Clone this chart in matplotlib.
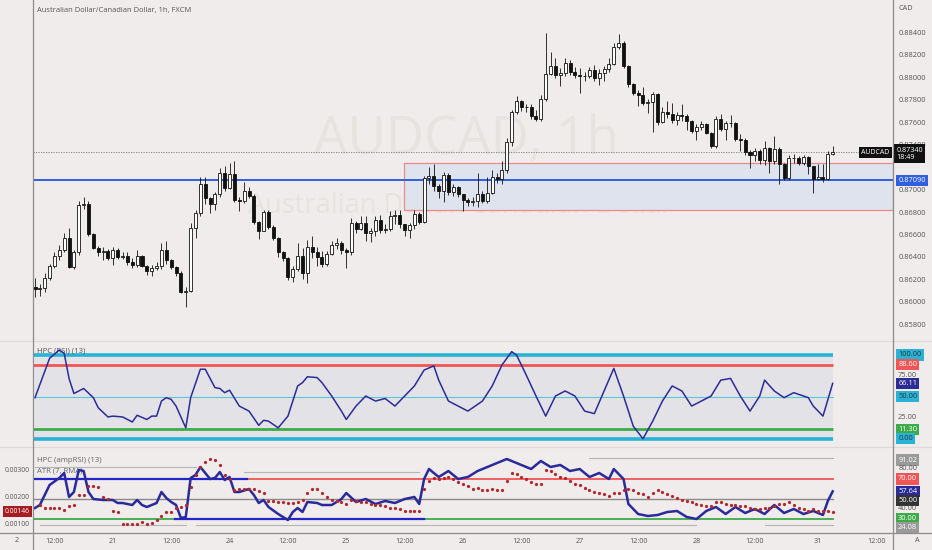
import matplotlib
matplotlib.use("Agg")
import matplotlib.pyplot as plt
from matplotlib.lines import Line2D
import numpy as np

# ---- data ----
first_open = 0.8614
close = [0.8612, 0.8613, 0.8622, 0.8633, 0.8642, 0.8647, 0.8658, 0.8632, 0.8645, 0.8687,
         0.8688, 0.8661, 0.8649, 0.8645, 0.8646, 0.8640, 0.8647, 0.8641, 0.8642, 0.8636,
         0.8634, 0.8642, 0.8633, 0.8628, 0.8631, 0.8633, 0.8647, 0.8638, 0.8632, 0.8627,
         0.8610, 0.8611, 0.8667, 0.8680, 0.8706, 0.8693, 0.8688, 0.8697, 0.8716, 0.8702,
         0.8715, 0.8692, 0.8691, 0.8700, 0.8695, 0.8672, 0.8664, 0.8681, 0.8668, 0.8658,
         0.8645, 0.8640, 0.8623, 0.8630, 0.8642, 0.8627, 0.8650, 0.8645, 0.8641, 0.8635,
         0.8644, 0.8652, 0.8653, 0.8647, 0.8645, 0.8671, 0.8666, 0.8671, 0.8662, 0.8664,
         0.8674, 0.8665, 0.8666, 0.8677, 0.8678, 0.8670, 0.8665, 0.8669, 0.8679, 0.8672,
         0.8711, 0.8713, 0.8704, 0.8700, 0.8714, 0.8699, 0.8703, 0.8697, 0.8692, 0.8690,
         0.8691, 0.8697, 0.8691, 0.8698, 0.8712, 0.8710, 0.8718, 0.8743, 0.8770, 0.8780,
         0.8774, 0.8774, 0.8766, 0.8764, 0.8782, 0.8804, 0.8811, 0.8803, 0.8805, 0.8814,
         0.8806, 0.8803, 0.8802, 0.8802, 0.8807, 0.8800, 0.8805, 0.8808, 0.8813, 0.8828,
         0.8831, 0.8811, 0.8795, 0.8787, 0.8785, 0.8778, 0.8779, 0.8786, 0.8761, 0.8770,
         0.8768, 0.8763, 0.8767, 0.8766, 0.8762, 0.8753, 0.8757, 0.8759, 0.8751, 0.8740,
         0.8764, 0.8755, 0.8760, 0.8760, 0.8746, 0.8745, 0.8734, 0.8732, 0.8735, 0.8727,
         0.8738, 0.8726, 0.8737, 0.8724, 0.8711, 0.8729, 0.8729, 0.8725, 0.8730, 0.8722,
         0.8710, 0.8712, 0.8710, 0.8733, 0.8734]
high = [0.8622, 0.8617, 0.8627, 0.8635, 0.8645, 0.8652, 0.8662, 0.8667, 0.8647, 0.8691,
        0.8694, 0.8691, 0.8662, 0.8651, 0.8650, 0.8648, 0.8650, 0.8649, 0.8645, 0.8645,
        0.8640, 0.8647, 0.8643, 0.8634, 0.8634, 0.8636, 0.8653, 0.8655, 0.8639, 0.8633,
        0.8628, 0.8614, 0.8671, 0.8683, 0.8712, 0.8712, 0.8694, 0.8699, 0.8720, 0.8722,
        0.8725, 0.8726, 0.8694, 0.8708, 0.8703, 0.8697, 0.8673, 0.8683, 0.8683, 0.8669,
        0.8659, 0.8646, 0.8641, 0.8633, 0.8653, 0.8649, 0.8656, 0.8660, 0.8650, 0.8646,
        0.8646, 0.8655, 0.8658, 0.8655, 0.8649, 0.8676, 0.8673, 0.8677, 0.8677, 0.8667,
        0.8677, 0.8678, 0.8670, 0.8682, 0.8683, 0.8683, 0.8670, 0.8671, 0.8683, 0.8681,
        0.8713, 0.8721, 0.8724, 0.8706, 0.8717, 0.8716, 0.8706, 0.8704, 0.8697, 0.8693,
        0.8694, 0.8716, 0.8700, 0.8712, 0.8718, 0.8716, 0.8726, 0.8747, 0.8772, 0.8784,
        0.8781, 0.8777, 0.8777, 0.8772, 0.8785, 0.8840, 0.8823, 0.8818, 0.8809, 0.8818,
        0.8816, 0.8810, 0.8809, 0.8806, 0.8810, 0.8812, 0.8808, 0.8811, 0.8818, 0.8831,
        0.8839, 0.8833, 0.8812, 0.8796, 0.8790, 0.8792, 0.8782, 0.8788, 0.8787, 0.8774,
        0.8780, 0.8778, 0.8770, 0.8777, 0.8768, 0.8763, 0.8759, 0.8762, 0.8760, 0.8752,
        0.8766, 0.8768, 0.8762, 0.8767, 0.8761, 0.8750, 0.8747, 0.8736, 0.8738, 0.8737,
        0.8744, 0.8739, 0.8749, 0.8739, 0.8725, 0.8732, 0.8733, 0.8731, 0.8732, 0.8731,
        0.8722, 0.8724, 0.8724, 0.8735, 0.8740]
low = [0.8605, 0.8606, 0.8610, 0.8620, 0.8631, 0.8638, 0.8645, 0.8631, 0.8630, 0.8643,
       0.8684, 0.8660, 0.8648, 0.8642, 0.8638, 0.8638, 0.8634, 0.8639, 0.8639, 0.8634,
       0.8631, 0.8632, 0.8632, 0.8625, 0.8624, 0.8629, 0.8630, 0.8635, 0.8630, 0.8624,
       0.8609, 0.8596, 0.8610, 0.8658, 0.8677, 0.8688, 0.8680, 0.8683, 0.8694, 0.8700,
       0.8701, 0.8690, 0.8682, 0.8689, 0.8693, 0.8670, 0.8657, 0.8664, 0.8666, 0.8656,
       0.8641, 0.8637, 0.8620, 0.8619, 0.8628, 0.8621, 0.8618, 0.8640, 0.8633, 0.8632,
       0.8633, 0.8643, 0.8648, 0.8644, 0.8631, 0.8643, 0.8662, 0.8665, 0.8655, 0.8654,
       0.8660, 0.8662, 0.8662, 0.8664, 0.8670, 0.8667, 0.8660, 0.8658, 0.8666, 0.8670,
       0.8671, 0.8706, 0.8700, 0.8693, 0.8690, 0.8696, 0.8695, 0.8694, 0.8682, 0.8686,
       0.8686, 0.8685, 0.8689, 0.8689, 0.8697, 0.8707, 0.8706, 0.8716, 0.8740, 0.8768,
       0.8771, 0.8770, 0.8764, 0.8762, 0.8762, 0.8780, 0.8803, 0.8800, 0.8793, 0.8802,
       0.8803, 0.8800, 0.8787, 0.8798, 0.8800, 0.8798, 0.8794, 0.8798, 0.8806, 0.8812,
       0.8826, 0.8809, 0.8792, 0.8785, 0.8775, 0.8776, 0.8769, 0.8752, 0.8758, 0.8760,
       0.8765, 0.8760, 0.8758, 0.8762, 0.8754, 0.8751, 0.8745, 0.8754, 0.8750, 0.8738,
       0.8738, 0.8753, 0.8745, 0.8757, 0.8744, 0.8735, 0.8732, 0.8720, 0.8726, 0.8724,
       0.8723, 0.8716, 0.8724, 0.8706, 0.8709, 0.8709, 0.8725, 0.8723, 0.8723, 0.8715,
       0.8698, 0.8709, 0.8708, 0.8709, 0.8732]

support_level = 0.87090
last_price = 0.87340
zone_start = 75.8
zone_top = 0.87250
zone_bottom = 0.86825

tick_pos = [4, 16, 28, 40, 52, 64, 76, 88, 100, 112, 124, 136, 148, 161, 173]
tick_lab = ["12:00", "21", "12:00", "24", "12:00", "25", "12:00", "26", "12:00",
            "27", "12:00", "28", "12:00", "31", "12:00"]
price_ticks = [0.884, 0.882, 0.880, 0.878, 0.876, 0.874, 0.870, 0.868, 0.866,
               0.864, 0.862, 0.860, 0.858]

# HPC (RSI) (13)
rsi_idx = [0, 3, 5, 6, 7, 8, 10, 12, 13, 15, 16, 18, 20, 21, 23, 24, 25, 26, 27, 28,
           29, 31, 32, 34, 35, 37, 38, 39, 40, 42, 44, 46, 47, 48, 50, 52, 54, 55, 56, 58,
           59, 61, 63, 64, 66, 68, 70, 72, 74, 76, 78, 80, 82, 83, 85, 87, 89, 92, 94, 96,
           98, 99, 101, 103, 105, 107, 109, 111, 113, 115, 117, 119, 121, 123, 125, 127, 129, 131, 133, 135,
           137, 139, 141, 143, 145, 147, 149, 150, 152, 154, 156, 159, 160, 162, 164]
rsi_val = [49, 96, 106, 102, 72, 54, 60, 49, 37, 26, 27, 26, 20, 28, 23, 27, 27, 45, 49, 47,
           39, 13, 49, 83, 83, 61, 60, 55, 58, 39, 33, 16, 22, 21, 13, 27, 63, 67, 74, 73,
           67, 51, 33, 23, 39, 51, 45, 48, 39, 51, 63, 82, 87, 70, 45, 39, 33, 45, 63, 88,
           104, 100, 76, 51, 27, 51, 57, 51, 33, 30, 57, 84, 51, 15, 0, 21, 45, 63, 57, 39,
           45, 51, 70, 72, 51, 33, 51, 70, 57, 49, 55, 49, 39, 27, 66.11]

# HPC (ampRSI) (13)
amp_idx = [0, 1, 3, 5, 6, 7, 8, 9, 10, 11, 12, 14, 16, 17, 18, 20, 21, 22, 23, 25,
           26, 27, 28, 29, 30, 31, 32, 33, 34, 35, 36, 37, 38, 39, 40, 41, 42, 44, 45, 46,
           47, 48, 50, 52, 53, 54, 55, 56, 58, 59, 61, 63, 64, 66, 68, 70, 72, 74, 76, 78,
           79, 80, 81, 83, 85, 87, 89, 91, 93, 95, 97, 98, 100, 102, 104, 106, 108, 110, 112, 114,
           116, 118, 119, 121, 122, 124, 126, 128, 130, 132, 134, 136, 138, 140, 142, 144, 146, 148, 150, 152,
           154, 156, 158, 160, 162, 163, 164]
amp_val = [41, 44, 64, 71, 76, 52, 57, 79, 78, 57, 50, 49, 49, 46, 46, 44, 49, 44, 42, 46,
           57, 51, 47, 44, 31, 32, 71, 74, 82, 76, 70, 71, 77, 69, 72, 57, 57, 60, 54, 46,
           49, 42, 35, 29, 37, 41, 37, 47, 46, 44, 44, 50, 56, 47, 50, 45, 48, 46, 50, 52,
           45, 70, 80, 72, 78, 70, 72, 78, 82, 86, 90, 88, 84, 80, 88, 82, 84, 78, 80, 72,
           76, 70, 80, 70, 45, 35, 33, 34, 37, 38, 32, 30, 38, 42, 35, 42, 36, 40, 35, 44,
           36, 40, 35, 38, 34, 48, 57.64]

# ATR (7, RMA), one value per candle starting at candle 1
atr_vals = [0.00170, 0.00159, 0.00159, 0.00159, 0.00159, 0.00152, 0.00167, 0.00170, 0.00207, 0.00207,
            0.00240, 0.00240, 0.00237, 0.00200, 0.00192, 0.00148, 0.00144, 0.00100, 0.00100, 0.00100,
            0.00100, 0.00107, 0.00100, 0.00104, 0.00115, 0.00130, 0.00144, 0.00144, 0.00159, 0.00163,
            0.00170, 0.00237, 0.00280, 0.00310, 0.00330, 0.00340, 0.00337, 0.00320, 0.00280, 0.00267,
            0.00226, 0.00230, 0.00230, 0.00230, 0.00230, 0.00222, 0.00215, 0.00185, 0.00185, 0.00180,
            0.00180, 0.00178, 0.00178, 0.00183, 0.00190, 0.00215, 0.00230, 0.00230, 0.00215, 0.00200,
            0.00190, 0.00185, 0.00180, 0.00175, 0.00190, 0.00185, 0.00180, 0.00180, 0.00175, 0.00170,
            0.00170, 0.00165, 0.00160, 0.00160, 0.00155, 0.00150, 0.00150, 0.00148, 0.00150, 0.00230,
            0.00260, 0.00270, 0.00265, 0.00270, 0.00275, 0.00265, 0.00255, 0.00250, 0.00240, 0.00230,
            0.00235, 0.00225, 0.00225, 0.00230, 0.00225, 0.00225, 0.00260, 0.00290, 0.00285, 0.00275,
            0.00265, 0.00255, 0.00250, 0.00250, 0.00300, 0.00295, 0.00285, 0.00275, 0.00270, 0.00260,
            0.00250, 0.00245, 0.00235, 0.00225, 0.00220, 0.00215, 0.00210, 0.00205, 0.00215, 0.00215,
            0.00225, 0.00230, 0.00225, 0.00215, 0.00210, 0.00200, 0.00215, 0.00225, 0.00220, 0.00210,
            0.00205, 0.00195, 0.00190, 0.00185, 0.00180, 0.00175, 0.00170, 0.00165, 0.00165, 0.00180,
            0.00180, 0.00175, 0.00170, 0.00170, 0.00165, 0.00165, 0.00160, 0.00155, 0.00155, 0.00160,
            0.00160, 0.00165, 0.00175, 0.00175, 0.00180, 0.00170, 0.00160, 0.00155, 0.00150, 0.00155,
            0.00150, 0.00150, 0.00148, 0.00146]

# ---- layout helpers ----
W, H = 932, 550
BG = '#efeceb'
TXT = '#555555'
plt.rcParams['font.family'] = ['Open Sans', 'DejaVu Sans']

def rect(x0, y0, x1, y1):
    return [x0 / W, 1 - y1 / H, (x1 - x0) / W, (y1 - y0) / H]

XL = (-0.41, 176.4)
X0, X1 = 33, 893

fig = plt.figure(figsize=(W / 100, H / 100), dpi=100, facecolor=BG)

def clean(ax):
    ax.set_facecolor('none')
    ax.set_xlim(*XL)
    for s in ax.spines.values():
        s.set_visible(False)
    ax.set_xticks([])
    ax.set_yticks([])

def rlabel(ax, y, text, fc=None, tc=TXT, size=5.4):
    kw = dict(transform=ax.get_yaxis_transform(), ha='left', va='center',
              fontsize=size, color=tc, zorder=10, clip_on=False)
    if fc is not None:
        kw['bbox'] = dict(boxstyle='square,pad=0.28', fc=fc, ec='none')
    ax.text(1.006, y, text, **kw)

# ---- price pane ----
ax = fig.add_axes(rect(X0, 0, X1, 341))
clean(ax)
ax.set_ylim(0.85661, 0.88697)

ax.text(88.6, 0.8745, "AUDCAD, 1h", fontsize=38, color='#e6e3e1', ha='center',
        va='center', zorder=0)
ax.text(87.4, 0.8686, "Australian Dollar/Canadian Dollar", fontsize=19.5, color='#e6e3e1',
        ha='center', va='center', zorder=0)

ax.add_patch(plt.Rectangle((zone_start, zone_bottom), XL[1] - zone_start, zone_top - zone_bottom,
                           fc='#dfe3ee', ec='#ef8a86', lw=0.9, zorder=1))
ax.axhline(support_level, color='#2f5fe0', lw=1.4, zorder=2)
ax.axhline(last_price, color='#7a7a7a', lw=0.6, ls=(0, (1.5, 1.5)), zorder=2)

idx = np.arange(len(close))
c = np.array(close)
o = np.array([first_open] + close[:-1])
hi = np.array(high)
lo = np.array(low)
up = c >= o
ax.vlines(idx, lo, hi, color='#111111', lw=0.6, zorder=3)
body_lo = np.minimum(o, c)
body_h = np.maximum(np.abs(c - o), 0.00004)
ax.bar(idx[up], body_h[up], bottom=body_lo[up], width=0.62, color='white',
       edgecolor='#111111', lw=0.6, zorder=4)
ax.bar(idx[~up], body_h[~up], bottom=body_lo[~up], width=0.62, color='#111111',
       edgecolor='#111111', lw=0.6, zorder=4)

ax.text(0.005, 0.968, "Australian Dollar/Canadian Dollar, 1h, FXCM", transform=ax.transAxes,
        fontsize=5.4, color=TXT, ha='left', va='center')

for p in price_ticks:
    rlabel(ax, p, f"{p:.5f}")
ax.text(1.006, 0.976, "CAD", transform=ax.transAxes, fontsize=5.2, color=TXT,
        ha='left', va='center', clip_on=False)
rlabel(ax, support_level, f"{support_level:.5f}", fc='#2f5fe0', tc='white')
ax.text(1.004, last_price - 0.00012, f"{last_price:.5f}\n18:49", transform=ax.get_yaxis_transform(),
        ha='left', va='center', fontsize=5.2, color='white', linespacing=1.1, zorder=11,
        clip_on=False, bbox=dict(boxstyle='square,pad=0.3', fc='#111111', ec='none'))
ax.text(0.996, last_price, "AUDCAD", transform=ax.get_yaxis_transform(), ha='right',
        va='center', fontsize=5.0, color='white', zorder=11,
        bbox=dict(boxstyle='square,pad=0.3', fc='#111111', ec='none'))

# ---- RSI pane ----
ax2 = fig.add_axes(rect(X0, 341, X1, 446))
clean(ax2)
ax2.set_ylim(-8.7, 116.7)
last = idx[-1]
ax2.fill_between([0, last], 0, 100, color='#e3e2e6', lw=0, zorder=0)
ax2.plot([XL[0], last], [100, 100], color='#26b3d6', lw=2.6, solid_capstyle='butt')
ax2.plot([XL[0], last], [0, 0], color='#26b3d6', lw=2.6, solid_capstyle='butt')
ax2.plot([XL[0], last], [88.6, 88.6], color='#f25555', lw=2.0, solid_capstyle='butt')
ax2.plot([XL[0], last], [11.3, 11.3], color='#3faa4a', lw=2.0, solid_capstyle='butt')
ax2.plot([XL[0], last], [50, 50], color='#5cc6df', lw=0.8)
ax2.plot(rsi_idx, rsi_val, color='#2c2c96', lw=1.1, zorder=5)
ax2.text(0.005, 0.9, "HPC (RSI) (13)", transform=ax2.transAxes,
         fontsize=5.6, color=TXT, ha='left', va='center')
rlabel(ax2, 76, "75.00")
rlabel(ax2, 25, "25.00")
rlabel(ax2, 100, "100.00", fc='#26b3d6', tc='#333333')
rlabel(ax2, 88.6, "88.60", fc='#f25555', tc='white')
rlabel(ax2, 66.11, "66.11", fc='#2c2c96', tc='white')
rlabel(ax2, 50, "50.00", fc='#26b3d6', tc='#333333')
rlabel(ax2, 11.3, "11.30", fc='#3faa4a', tc='white')
rlabel(ax2, 0, "0.00", fc='#26b3d6', tc='#333333')

# ---- ampRSI pane ----
ax3 = fig.add_axes(rect(X0, 447, X1, 532))
clean(ax3)
ax3.set_ylim(17, 102)
ax3.plot([XL[0], last], [70, 70], color='#f25555', lw=1.3)
ax3.plot([XL[0], last], [30, 30], color='#3faa4a', lw=1.3)
ax3.plot([XL[0], last], [50, 50], color='#8a8a8a', lw=1.0)
ax3.plot([XL[0], 43.6], [70, 70], color='#2424c8', lw=1.6)
ax3.plot([28.8, 80], [30, 30], color='#2424c8', lw=1.6)
# faint grey range lines
ax3.plot([0, 33], [82, 82], color='#b5b5b5', lw=0.8)
ax3.plot([43, 79], [77, 77], color='#b5b5b5', lw=0.8)
ax3.plot([114, 164], [91.02, 91.02], color='#b5b5b5', lw=0.8)
ax3.plot([1, 31], [24.5, 24.5], color='#b5b5b5', lw=0.8)
ax3.plot([33, 136], [24.5, 24.5], color='#b5b5b5', lw=0.8)
ax3.plot([150, 164], [24.08, 24.08], color='#b5b5b5', lw=0.8)
ax3.plot(amp_idx, amp_val, color='#2a2a9a', lw=1.8, zorder=5)

ax3b = fig.add_axes(rect(X0, 447, X1, 532))
clean(ax3b)
ax3b.set_ylim(0.000704, 0.003852)
ax3b.plot(np.arange(1, len(atr_vals) + 1), atr_vals, ls='none', marker='o', ms=1.3,
          color='#b3262b', zorder=6)
for a in [0.003, 0.002, 0.001]:
    ax3b.text(-0.004, a, f"{a:.5f}", transform=ax3b.get_yaxis_transform(), ha='right',
              va='center', fontsize=4.9, color=TXT, clip_on=False)
ax3b.text(-0.004, atr_vals[-1], f"{atr_vals[-1]:.5f}", transform=ax3b.get_yaxis_transform(),
          ha='right', va='center', fontsize=4.9, color='white', clip_on=False, zorder=11,
          bbox=dict(boxstyle='square,pad=0.3', fc='#a51d22', ec='none'))

ax3.text(0.005, 0.84, "HPC (ampRSI) (13)", transform=ax3.transAxes, fontsize=5.6,
         color='#666666', ha='left', va='center')
ax3.text(0.005, 0.72, "ATR (7, RMA)", transform=ax3.transAxes, fontsize=5.6,
         color='#666666', ha='left', va='center')
# right-hand labels, stacked the way the platform pushes them apart
rlabel(ax3, 89.0, "91.02", fc='#9a9a9a', tc='white')
rlabel(ax3, 80, "80.00")
rlabel(ax3, 70, "70.00", fc='#f25555', tc='white')
rlabel(ax3, 57.3, "57.64", fc='#2a2a9a', tc='white')
rlabel(ax3, 48.2, "50.00", fc='#333333', tc='white')
rlabel(ax3, 40.5, "40.00")
rlabel(ax3, 30, "30.00", fc='#3faa4a', tc='white')
rlabel(ax3, 21.5, "24.08", fc='#9a9a9a', tc='white')

# ---- time axis ----
axt = fig.add_axes(rect(X0, 532, X1, 550))
clean(axt)
axt.set_ylim(0, 1)
for p, lab in zip(tick_pos, tick_lab):
    axt.text(p, 0.45, lab, ha='center', va='center', fontsize=5.2, color=TXT)
fig.text(17 / W, 1 - 541 / H, "2", ha='center', va='center', fontsize=5.2, color=TXT)
fig.text(917 / W, 1 - 541 / H, "A", ha='center', va='center', fontsize=5.2, color=TXT)

# ---- separators ----
for yy, col, lw in [(341, '#dcd9d7', 0.8), (446.5, '#dcd9d7', 0.8), (532.5, '#8c8c8c', 0.9)]:
    fig.add_artist(Line2D([0, 1], [1 - yy / H] * 2, color=col, lw=lw, zorder=20))
for xx in [X0, X1]:
    fig.add_artist(Line2D([xx / W] * 2, [0, 1], color='#8c8c8c', lw=0.9, zorder=20))

fig.savefig("out.png", dpi=100, facecolor=BG)
